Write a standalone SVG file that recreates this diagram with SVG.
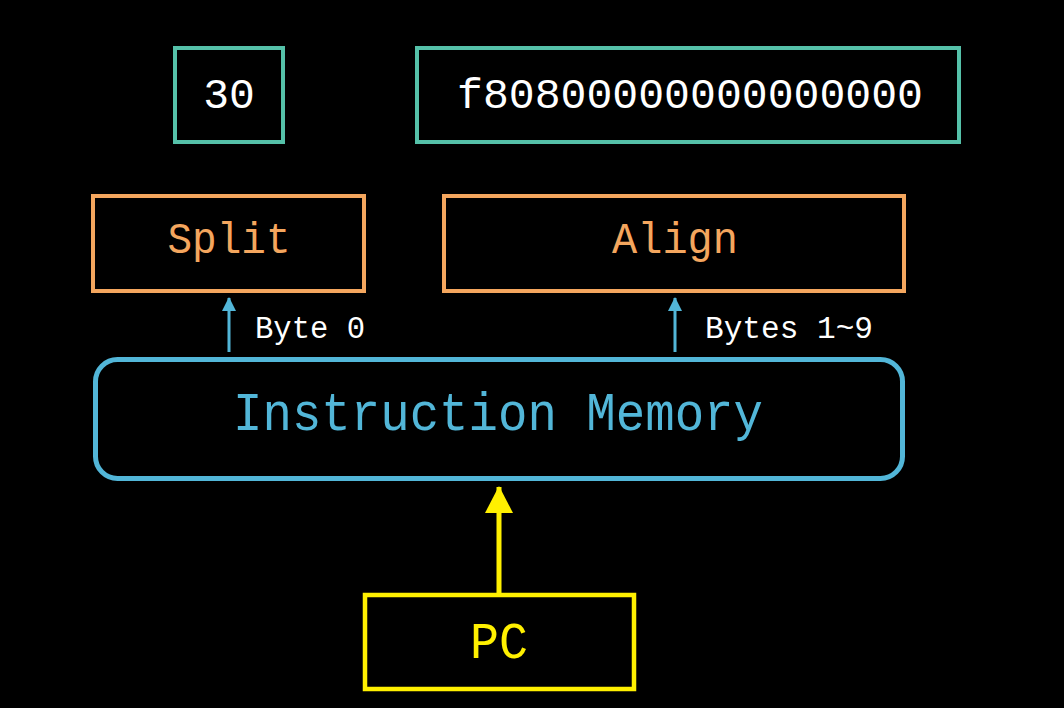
<svg xmlns="http://www.w3.org/2000/svg" width="1064" height="708" viewBox="0 0 1064 708">
<style>
  .t { font-family: "Liberation Mono", "DejaVu Sans Mono", monospace; text-anchor: middle; }
  .ts { font-family: "Liberation Mono", "DejaVu Sans Mono", monospace; text-anchor: start; }
  .teal { fill: none; stroke: #55c1a9; stroke-width: 4; }
  .orange { fill: none; stroke: #f4a65e; stroke-width: 4; }
  .blue { fill: none; stroke: #52b6d8; stroke-width: 5; }
  .yellow { fill: none; stroke: #fff000; stroke-width: 4.5; }
</style>
<defs>
  <marker id="ab" markerWidth="14" markerHeight="14" refX="13" refY="7" orient="auto" markerUnits="userSpaceOnUse" viewBox="0 0 14 14">
    <path d="M0,0 L14,7 L0,14 Z" fill="#52b6d8"/>
  </marker>
  <marker id="ay" markerWidth="27" markerHeight="28" refX="26" refY="14" orient="auto" markerUnits="userSpaceOnUse" viewBox="0 0 27 28">
    <path d="M0,0 L27,14 L0,28 Z" fill="#fff000"/>
  </marker>
</defs>
<rect width="1064" height="708" fill="#000"/>

<g id="byte0val">
  <rect class="teal" x="175" y="48" width="108" height="94"/>
  <text class="t" x="229" y="108" font-size="43" fill="#fff">30</text>
</g>
<g id="bytesval">
  <rect class="teal" x="417" y="48" width="542" height="94"/>
  <text class="t" x="690" y="108" font-size="43" fill="#fff" textLength="466" lengthAdjust="spacingAndGlyphs">f80800000000000000</text>
</g>
<g id="split">
  <rect class="orange" x="93" y="196" width="271" height="95"/>
  <text class="t" x="229" y="253" font-size="44" fill="#f4a65e" textLength="123" lengthAdjust="spacingAndGlyphs">Split</text>
</g>
<g id="align">
  <rect class="orange" x="444" y="196" width="460" height="95"/>
  <text class="t" x="675" y="253" font-size="44" fill="#f4a65e" textLength="126" lengthAdjust="spacingAndGlyphs">Align</text>
</g>
<g id="imem">
  <rect class="blue" x="95.5" y="359.5" width="807" height="119" rx="22"/>
  <text class="t" x="498" y="430" font-size="54" fill="#52b6d8" textLength="530" lengthAdjust="spacingAndGlyphs">Instruction Memory</text>
</g>
<g id="pc">
  <rect class="yellow" x="365" y="595" width="269" height="94"/>
  <text class="t" x="499" y="658" font-size="52" fill="#fff000" textLength="58" lengthAdjust="spacingAndGlyphs">PC</text>
</g>

<g id="connectors">
  <line x1="229" y1="352" x2="229" y2="298" stroke="#52b6d8" stroke-width="3" marker-end="url(#ab)"/>
  <line x1="675" y1="352" x2="675" y2="298" stroke="#52b6d8" stroke-width="3" marker-end="url(#ab)"/>
  <line x1="499" y1="594" x2="499" y2="487" stroke="#fff000" stroke-width="5" marker-end="url(#ay)"/>
  <text class="ts" x="255" y="338" font-size="31" fill="#fff" textLength="110" lengthAdjust="spacingAndGlyphs">Byte 0</text>
  <text class="ts" x="705" y="338" font-size="31" fill="#fff" textLength="168" lengthAdjust="spacingAndGlyphs">Bytes 1~9</text>
</g>
</svg>
